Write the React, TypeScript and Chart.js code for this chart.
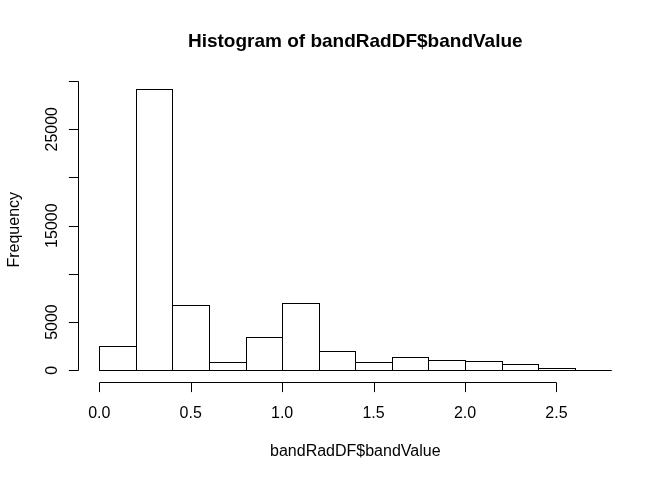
import React, { useRef, useEffect } from "react";
import { Chart, registerables } from "chart.js";

Chart.register(...registerables);

// histogram bins (R hist() default breaks) and counts per bin
const breaks = [0, 0.2, 0.4, 0.6, 0.8, 1.0, 1.2, 1.4, 1.6, 1.8, 2.0, 2.2, 2.4, 2.6, 2.8];
const counts = [2490, 29150, 6820, 830, 3500, 6930, 2040, 830, 1350, 1110, 1000, 620, 280, 0];

const xTicks = [0, 0.5, 1.0, 1.5, 2.0, 2.5];
const xTickLabels = ["0.0", "0.5", "1.0", "1.5", "2.0", "2.5"];
const yTicks = [0, 5000, 10000, 15000, 20000, 25000, 30000];
const yTickLabels = ["0", "5000", "", "15000", "", "25000", ""]; // R drops overlapping ones

const title = "Histogram of bandRadDF$bandValue";
const xTitle = "bandRadDF$bandValue";
const yTitle = "Frequency";

const FONT = '"Liberation Sans", Arial, Helvetica, sans-serif';

// outline every bar like R's rect(): crisp 1px, shared edges overlap
const barOutlinePlugin = {
  id: "barOutline",
  afterDatasetsDraw(chart: any) {
    const { ctx } = chart;
    const meta = chart.getDatasetMeta(0);
    ctx.save();
    ctx.strokeStyle = "#000";
    ctx.lineWidth = 1;
    meta.data.forEach((el: any) => {
      const { x, y, base, width } = el.getProps(["x", "y", "base", "width"], true);
      const l = Math.round(x - width / 2) + 0.5;
      const r = Math.round(x + width / 2) + 0.5;
      const t = Math.round(y) + 0.5;
      const b = Math.round(base) + 0.5;
      ctx.strokeRect(l, t, r - l, b - t);
    });
    ctx.restore();
  },
};

// R-style axes: lines only span first..last tick, labels rotated on y
const rAxesPlugin = {
  id: "rAxes",
  afterDraw(chart: any) {
    const { ctx, chartArea: a, scales } = chart;
    const xs = scales.x;
    const ys = scales.y;
    const tick = 9.6;

    ctx.save();
    ctx.strokeStyle = "#000";
    ctx.fillStyle = "#000";
    ctx.lineWidth = 1;

    // x axis
    const xb = Math.round(a.bottom) + 0.5;
    const xp = (v: number) => Math.round(xs.getPixelForValue(v)) + 0.5;
    ctx.beginPath();
    ctx.moveTo(xp(xTicks[0]), xb);
    ctx.lineTo(xp(xTicks[xTicks.length - 1]), xb);
    xTicks.forEach((v) => {
      ctx.moveTo(xp(v), xb);
      ctx.lineTo(xp(v), xb + tick);
    });
    ctx.stroke();

    ctx.font = `16px ${FONT}`;
    ctx.textAlign = "center";
    ctx.textBaseline = "alphabetic";
    xTicks.forEach((v, i) => {
      ctx.fillText(xTickLabels[i], xs.getPixelForValue(v), 417.5);
    });

    // y axis
    const yl = Math.floor(a.left) + 0.5;
    const yp = (v: number) => Math.round(ys.getPixelForValue(v)) + 0.5;
    ctx.beginPath();
    ctx.moveTo(yl, yp(yTicks[0]));
    ctx.lineTo(yl, yp(yTicks[yTicks.length - 1]));
    yTicks.forEach((v) => {
      ctx.moveTo(yl, yp(v));
      ctx.lineTo(yl - tick, yp(v));
    });
    ctx.stroke();

    yTicks.forEach((v, i) => {
      if (!yTickLabels[i]) return;
      ctx.save();
      ctx.translate(56.8, ys.getPixelForValue(v));
      ctx.rotate(-Math.PI / 2);
      ctx.fillText(yTickLabels[i], 0, 0);
      ctx.restore();
    });

    // titles
    const cx = (a.left + a.right) / 2;
    ctx.fillText(xTitle, cx, 456);

    ctx.save();
    ctx.translate(18.5, (a.top + a.bottom) / 2);
    ctx.rotate(-Math.PI / 2);
    ctx.fillText(yTitle, 0, 0);
    ctx.restore();

    ctx.font = `bold 19px ${FONT}`;
    ctx.fillText(title, cx, 47);

    ctx.restore();
  },
};

const App: React.FC = () => {
  const chartRef = useRef<HTMLCanvasElement | null>(null);

  useEffect(() => {
    document.body.style.margin = "0";
    if (!chartRef.current) return;
    const ctx = chartRef.current.getContext("2d");
    if (!ctx) return;

    const bars = counts.map((c, i) => ({ x: (breaks[i] + breaks[i + 1]) / 2, y: c }));
    const maxCount = Math.max(...counts);
    const xMin = breaks[0];
    const xMax = breaks[breaks.length - 1];
    const xExt = (xMax - xMin) * 0.04;

    const chartInstance = new Chart(ctx, {
      type: "bar",
      data: {
        datasets: [
          {
            label: "Frequency",
            data: bars,
            backgroundColor: "#fff",
            borderWidth: 0,
            barPercentage: 1,
            categoryPercentage: 1,
          },
        ],
      },
      options: {
        responsive: false,
        animation: false,
        layout: {
          padding: { left: 78.8, right: 40.2, top: 78, bottom: 98.5 },
        },
        scales: {
          x: {
            type: "linear",
            display: false,
            offset: false,
            min: xMin - xExt,
            max: xMax + xExt,
          },
          y: {
            type: "linear",
            display: false,
            min: -maxCount * 0.04,
            max: maxCount * 1.04,
          },
        },
        plugins: {
          legend: { display: false },
          tooltip: { enabled: false },
        },
      },
      plugins: [barOutlinePlugin, rAxesPlugin],
    });

    return () => {
      chartInstance.destroy();
    };
  }, []);

  return (
    <div style={{ width: 672, height: 480, background: "#fff" }}>
      <canvas ref={chartRef} width={672} height={480} />
    </div>
  );
};

export default App;
